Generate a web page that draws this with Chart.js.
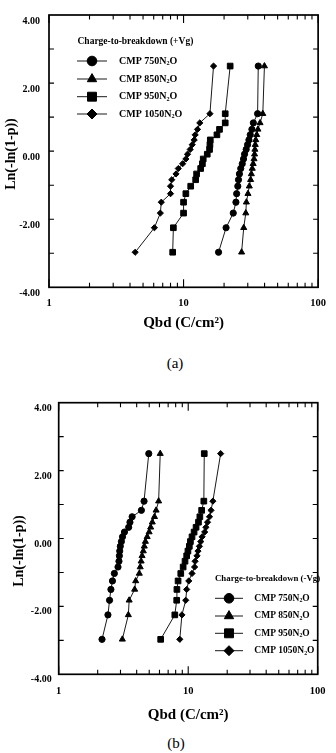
<!DOCTYPE html>
<html><head><meta charset="utf-8">
<script src="https://cdn.jsdelivr.net/npm/chart.js@4.4.1/dist/chart.umd.min.js"></script>
<style>
html,body{margin:0;padding:0;background:#fff;width:336px;height:753px;overflow:hidden;}
.box{position:absolute;left:0;width:336px;}
#boxA{top:0;height:335px;}
#boxB{top:385px;height:345px;}
.cap{position:absolute;transform:translateX(-50%);font-family:"Liberation Serif","Times New Roman",serif;font-size:15px;line-height:18px;color:#000;white-space:nowrap;}
</style></head><body>
<div id="boxA" class="box"><canvas id="cA"></canvas></div>
<div class="cap" style="left:175px;top:354px">(a)</div>
<div id="boxB" class="box"><canvas id="cB"></canvas></div>
<div class="cap" style="left:176px;top:734px">(b)</div>
<script>
// ---------------- data ----------------
const yLevels = [-2.97,-2.25,-1.82,-1.50,-1.25,-1.03,-0.84,-0.67,-0.51,-0.37,-0.23,-0.09,0.05,0.19,0.33,0.48,0.64,0.83,1.10,2.50];
const seriesNames = ['CMP 750N2O','CMP 850N2O','CMP 950N2O','CMP 1050N2O'];

// (a) Charge-to-breakdown (+Vg)
const qbdA750  = [18.2,20.7,23.4,24.5,24.8,25.3,25.6,26.0,26.6,27.3,27.9,28.4,29.2,29.9,30.6,31.3,32.2,33.0,35.5,35.9];
const qbdA850  = [27.0,28.0,29.0,29.3,30.1,30.8,31.5,31.9,32.4,32.9,33.4,33.7,33.9,34.1,34.4,35.0,35.7,37.0,38.8,39.9];
const qbdA950  = [8.3,8.4,10.0,10.0,10.4,11.3,12.3,12.5,13.4,13.8,14.0,15.0,15.6,15.7,15.8,17.7,18.5,20.4,20.4,22.2];
const qbdA1050 = [4.37,6.07,6.72,6.83,8.0,8.0,8.17,8.79,9.14,9.84,10.4,10.7,11.2,11.6,12.0,12.2,12.7,13.2,15.7,16.7];

// (b) Charge-to-breakdown (-Vg)
const qbdB750  = [2.16,2.40,2.47,2.53,2.60,2.69,2.87,2.92,2.94,2.96,2.99,3.05,3.11,3.22,3.47,3.55,3.69,4.35,4.56,4.96];
const qbdB850  = [3.10,3.45,3.50,3.86,3.93,4.19,4.26,4.33,4.40,4.50,4.58,4.67,4.82,4.99,5.13,5.28,5.49,5.65,5.91,6.08];
const qbdB950  = [6.13,7.88,8.15,8.18,8.35,8.76,9.14,9.45,9.73,9.95,10.2,10.4,10.7,11.1,11.5,12.0,12.3,12.7,13.2,13.3];
const qbdB1050 = [8.61,8.94,9.57,9.73,10.1,10.7,11.2,11.3,11.7,11.9,12.2,12.5,12.8,13.4,13.7,14.1,14.6,15.0,15.5,17.8];

const xTickValues = [1,10,100];
const xTickLabels = ['1','10','100'];
const xMinorTicks = [2,3,4,5,6,7,8,9,20,30,40,50,60,70,80,90];
const yTickValues = [-4,-2,0,2,4];
const yTickLabels = ['-4.00','-2.00','0.00','2.00','4.00'];
const yMinorTicks = [-3,-2,-1,0,1,2,3];

// ---------------- styles ----------------
const SERIF = '"Liberation Serif","Times New Roman",serif';
const pStyles = ['circle','triangle','rect','rectRot'];
const pRadius = [3.1,3.5,4.0,3.1];
const lRadius = [4.8,5.4,6.3,5.0];

function makeDatasets(arrs){
  return arrs.map((vals,i)=>({
    label: seriesNames[i],
    data: vals.map((v,j)=>({x:v,y:yLevels[j]})),
    showLine:true, borderColor:'#1a1a1a', borderWidth:1,
    backgroundColor:'#000', pointBackgroundColor:'#000', pointBorderColor:'#000',
    pointBorderWidth:1, pointStyle:pStyles[i], pointRadius:pRadius[i], tension:0
  }));
}

function drawSubText(ctx, txt, x, y, size){
  // draws "...N2O" with subscript 2
  const k = txt.lastIndexOf('2O');
  const a = txt.slice(0,k), b = 'O';
  ctx.textBaseline='middle'; ctx.textAlign='left';
  ctx.font = 'bold '+size+'px '+SERIF;
  ctx.fillText(a,x,y);
  let w = ctx.measureText(a).width;
  ctx.font = 'bold '+(size*0.62)+'px '+SERIF;
  ctx.fillText('2',x+w,y+size*0.28);
  w += ctx.measureText('2').width;
  ctx.font = 'bold '+size+'px '+SERIF;
  ctx.fillText(b,x+w,y);
}

const deco = {
  id:'deco',
  afterDraw(chart, args, o){
    const {ctx, chartArea:a, scales:{x,y}} = chart;
    ctx.save();
    ctx.strokeStyle='#000'; ctx.fillStyle='#000';
    ctx.lineWidth=1.7;
    ctx.strokeRect(a.left,a.top,a.right-a.left,a.bottom-a.top);
    ctx.lineWidth=1.1;
    ctx.beginPath();
    xMinorTicks.forEach(v=>{const p=x.getPixelForValue(v);
      ctx.moveTo(p,a.bottom); ctx.lineTo(p,a.bottom-4.5); ctx.moveTo(p,a.top); ctx.lineTo(p,a.top+4.5);});
    xTickValues.forEach(v=>{const p=x.getPixelForValue(v);
      ctx.moveTo(p,a.bottom); ctx.lineTo(p,a.bottom-8); ctx.moveTo(p,a.top); ctx.lineTo(p,a.top+8);});
    yMinorTicks.forEach(v=>{const p=y.getPixelForValue(v);
      ctx.moveTo(a.left,p); ctx.lineTo(a.left+5,p); ctx.moveTo(a.right,p); ctx.lineTo(a.right-5,p);});
    ctx.stroke();
    // y title
    ctx.save();
    ctx.translate(o.yTitle.x,o.yTitle.y); ctx.rotate(-Math.PI/2);
    ctx.font='bold 14px '+SERIF; ctx.textAlign='center'; ctx.textBaseline='middle';
    ctx.fillText('Ln(-ln(1-p))',0,0);
    ctx.restore();
    // legend
    const L=o.legend;
    ctx.font='bold '+L.titleSize+'px '+SERIF; ctx.textAlign='left'; ctx.textBaseline='middle';
    ctx.fillText(L.title,L.titleX,L.titleY);
    chart.data.datasets.forEach((ds,i)=>{
      const ry=L.rows[i];
      ctx.lineWidth=1; ctx.strokeStyle='#1a1a1a';
      ctx.beginPath(); ctx.moveTo(L.lineX0,ry); ctx.lineTo(L.lineX1,ry); ctx.stroke();
      ctx.fillStyle='#000'; ctx.strokeStyle='#000';
      Chart.helpers.drawPoint(ctx,{pointStyle:pStyles[i],radius:lRadius[i],rotation:0,borderWidth:1},(L.lineX0+L.lineX1)/2,ry);
      ctx.fillStyle='#000';
      drawSubText(ctx, ds.label, L.textX, ry, L.textSize);
    });
    ctx.restore();
  }
};

function makeChart(id, arrs, cfg){
  return new Chart(document.getElementById(id),{
    type:'scatter',
    data:{datasets:makeDatasets(arrs)},
    options:{
      responsive:true, maintainAspectRatio:false, animation:false,
      layout:{padding:cfg.pad},
      plugins:{legend:{display:false},tooltip:{enabled:false},deco:cfg.deco},
      scales:{
        x:{type:'logarithmic',min:1,max:100,
          afterBuildTicks:s=>{s.ticks=xTickValues.map(v=>({value:v}));},
          afterFit:s=>{s.height=cfg.xH;},
          grid:{display:false,drawTicks:false},border:{display:false},
          ticks:{autoSkip:false,maxRotation:0,padding:cfg.xPad,color:'#000',
            font:{family:SERIF,weight:'bold',size:10.5},
            callback:(v,i)=>xTickLabels[i]},
          title:{display:true,text:'Qbd (C/cm\u00B2)',color:'#000',
            font:{family:SERIF,weight:'bold',size:15},padding:{top:0,bottom:cfg.xTitlePad}}
        },
        y:{type:'linear',min:-4,max:4,
          afterBuildTicks:s=>{s.ticks=yTickValues.map(v=>({value:v}));},
          afterFit:s=>{s.width=cfg.yW;},
          grid:{display:false,drawTicks:false},border:{display:false},
          ticks:{padding:cfg.yPad,labelOffset:cfg.yLab,color:'#000',
            font:{family:SERIF,weight:'bold',size:10},
            callback:(v,i)=>yTickLabels[i]},
          title:{display:false}
        }
      }
    },
    plugins:[deco]
  });
}

makeChart('cA',[qbdA750,qbdA850,qbdA950,qbdA1050],{
  pad:{left:0,right:13,top:13.3,bottom:0}, xH:47.7, xPad:10, xTitlePad:3, yW:49, yPad:9, yLab:6,
  deco:{yTitle:{x:11,y:154},
    legend:{title:'Charge-to-breakdown (+Vg)',titleX:77.5,titleY:41.7,titleSize:9.5,
      rows:[61,79,96.7,114],lineX0:77,lineX1:107,textX:119,textSize:10}}
});
makeChart('cB',[qbdB750,qbdB850,qbdB950,qbdB1050],{
  pad:{left:0,right:6,top:17.7,bottom:0}, xH:55.7, xPad:10.4, xTitlePad:6, yW:58.7, yPad:7, yLab:5.5,
  deco:{yTitle:{x:19,y:166},
    legend:{title:'Charge-to-breakdown (-Vg)',titleX:215,titleY:194,titleSize:8.8,
      rows:[213.3,231,248.3,265.7],lineX0:215,lineX1:243,textX:254.3,textSize:9.5}}
});
</script>
</body></html>
